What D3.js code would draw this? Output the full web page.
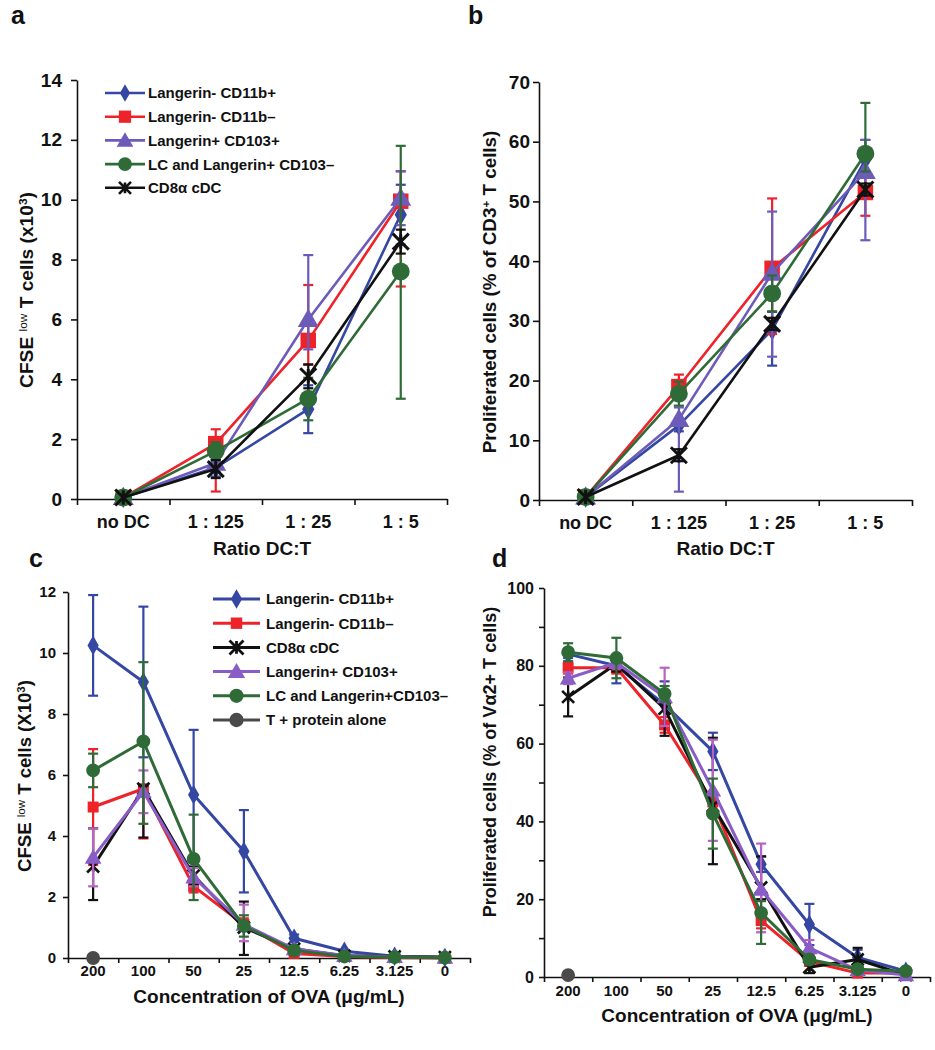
<!DOCTYPE html>
<html><head><meta charset="utf-8">
<script src="https://cdn.jsdelivr.net/npm/d3@7/dist/d3.min.js"></script>
<style>body{margin:0;background:#fff}svg{display:block}</style>
</head><body>
<svg id="chart" width="935" height="1050"></svg>
<script>
// ---------- DATA ----------
const ratioCats = ["no DC", "1 : 125", "1 : 25", "1 : 5"];
const ovaCats = ["200", "100", "50", "25", "12.5", "6.25", "3.125", "0"];

const seriesNamesAB = ["Langerin- CD11b+", "Langerin- CD11b\u2013", "Langerin+ CD103+", "LC and Langerin+ CD103\u2013", "CD8\u03b1 cDC"];
const seriesNamesCD = ["Langerin- CD11b+", "Langerin- CD11b\u2013", "CD8\u03b1 cDC", "Langerin+ CD103+", "LC and Langerin+CD103\u2013", "T + protein alone"];

// Panel a: CFSE low T cells (x10^3)
const aBlue = [0.05, 1.05, 3.0, 9.5];
const aBlueUp = [0, 0.3, 0.8, 1.0];
const aBlueDn = [0, 0.3, 0.8, 1.0];
const aRed = [0.05, 1.85, 5.3, 9.95];
const aRedUp = [0, 0.48, 1.85, 1.0];
const aRedDn = [0, 1.6, 0.82, 2.85];
const aPurple = [0.05, 1.2, 6.0, 10.05];
const aPurpleUp = [0, 0.3, 2.15, 0.9];
const aPurpleDn = [0, 0.3, 1.0, 0.9];
const aGreen = [0.05, 1.6, 3.35, 7.6];
const aGreenUp = [0, 0.3, 0.7, 4.2];
const aGreenDn = [0, 0.3, 0.72, 4.25];
const aBlack = [0.05, 1.0, 4.1, 8.6];
const aBlackUp = [0, 0.3, 0.4, 0.4];
const aBlackDn = [0, 0.3, 0.4, 0.4];

// Panel b: Proliferated cells (% of CD3+ T cells)
const bBlue = [0.5, 12.5, 28.5, 57];
const bBlueUp = [0, 1, 3, 3.3];
const bBlueDn = [0, 1, 6, 3];
const bRed = [0.5, 19, 38.8, 51.5];
const bRedUp = [0, 2, 11.7, 3];
const bRedDn = [0, 2, 11, 3.9];
const bPurple = [0.5, 13.5, 38, 55];
const bPurpleUp = [0, 2, 10.3, 5.3];
const bPurpleDn = [0, 12.1, 14, 11.5];
const bGreen = [0.5, 17.8, 34.6, 58];
const bGreenUp = [0, 2, 3, 8.5];
const bGreenDn = [0, 2, 3, 3];
const bBlack = [0.5, 7.5, 29.5, 52];
const bBlackUp = [0, 1, 1, 1];
const bBlackDn = [0, 1, 1, 1];

// Panel c: CFSE low T cells (X10^3)
const cBlue = [10.25, 9.05, 5.35, 3.5, 0.65, 0.22, 0.06, 0.02];
const cBlueUp = [1.65, 2.47, 2.13, 1.35, 0.12, 0.05, 0, 0];
const cBlueDn = [1.65, 2.47, 2.13, 1.35, 0.12, 0.05, 0, 0];
const cRed = [4.95, 5.55, 2.35, 1.1, 0.15, 0.05, 0.02, 0];
const cRedUp = [1.9, 0.1, 0.2, 0.2, 0.05, 0.02, 0, 0];
const cRedDn = [1.9, 1.63, 0.2, 0.2, 0.05, 0.02, 0, 0];
const cBlack = [3.0, 5.55, 2.7, 1.0, 0.3, 0.07, 0.05, 0.03];
const cBlackUp = [1.25, 0.1, 0.3, 0.85, 0.1, 0, 0, 0];
const cBlackDn = [1.1, 1.6, 0.3, 0.9, 0.1, 0, 0, 0];
const cPurple = [3.3, 5.45, 2.65, 1.1, 0.3, 0.08, 0.04, 0.02];
const cPurpleUp = [0.95, 0.7, 0.3, 0.65, 0.05, 0, 0, 0];
const cPurpleDn = [0.95, 0.7, 0.3, 0.55, 0.05, 0, 0, 0];
const cGreen = [6.15, 7.1, 3.25, 1.05, 0.25, 0.05, 0.03, 0.01];
const cGreenUp = [0.55, 2.6, 1.45, 0.35, 0.05, 0, 0, 0];
const cGreenDn = [0.55, 2.7, 1.35, 0.35, 0.05, 0, 0, 0];
const cGray = [0, null, null, null, null, null, null, null];

// Panel d: Proliferated cells (% of Va2+ T cells)
const dBlue = [83, 80, 70, 58, 29, 13.5, 5, 1.5];
const dBlueUp = [1, 1, 6, 4.8, 2, 5.3, 2, 0];
const dBlueDn = [1, 4.5, 6, 4.8, 2, 5.3, 2, 0];
const dRed = [79.5, 79.5, 64.8, 45, 14.5, 4, 1, 1];
const dRedUp = [1.5, 1.5, 2, 2, 2, 1, 0.5, 0];
const dRedDn = [1.5, 1.5, 2, 2, 2, 1, 0.5, 0];
const dBlack = [72, 80.5, 69, 44, 23, 2.5, 4.5, 0.5];
const dBlackUp = [5, 2, 2, 17.5, 8, 1.5, 3, 0.5];
const dBlackDn = [5, 2, 7, 15, 3, 1.5, 3, 0.5];
const dPurple = [76.8, 80.8, 72, 48, 22.5, 7.5, 1.8, 0.5];
const dPurpleUp = [1.5, 1.5, 7.5, 13, 11.8, 2, 1, 0];
const dPurpleDn = [1.5, 1.5, 7.5, 13, 11, 2, 1, 0];
const dGreen = [83.5, 82, 72.8, 42, 16.5, 4.5, 2, 1.5];
const dGreenUp = [2.3, 5.2, 2, 9, 3, 1, 0.5, 0];
const dGreenDn = [2.3, 5.2, 2, 9, 8, 1, 0.5, 0];
const dGray = [0.5, null, null, null, null, null, null, null];

const ticksA = [0, 2, 4, 6, 8, 10, 12, 14];
const ticksB = [0, 10, 20, 30, 40, 50, 60, 70];
const ticksC = [0, 2, 4, 6, 8, 10, 12];
const ticksD = [0, 20, 40, 60, 80, 100];
const minorD = [10, 30, 50, 70, 90];

// ---------- STYLE ----------
const COL = {blue: "#3447a3", red: "#ee2229", purple: "#6d5bb9", purple2: "#8a5cc6", magenta: "#b860c4", green: "#2f6b36", black: "#111111", gray: "#4a4a4a"};
const FONT = "'Liberation Sans', Arial, sans-serif";
const svg = d3.select("#chart");

function starPath(r) {
  return `M${-r},${-r}L${r},${r}M${-r},${r}L${r},${-r}M0,${-r*0.9}L0,${r*0.9}`;
}
function drawMarker(g, shape, x, y, color, s) {
  if (shape === "star") {
    g.append("path").attr("d", starPath(s.star)).attr("transform", `translate(${x},${y})`)
      .attr("stroke", color).attr("stroke-width", s.starW).attr("fill", "none");
    return;
  }
  const t = {diamond: d3.symbolDiamond, square: d3.symbolSquare, triangle: d3.symbolTriangle, circle: d3.symbolCircle}[shape];
  g.append("path").attr("d", d3.symbol().type(t).size(s[shape])()).attr("transform", `translate(${x},${y + (shape === "triangle" ? 1.5 : 0)})`)
    .attr("fill", color);
}

function panel(o) {
  const g = svg.append("g");
  const n = o.cats.length;
  const y = d3.scaleLinear().domain(o.yDomain).range([o.bottom, o.top]);
  const band = d3.scaleBand().domain(o.cats).range([o.left, o.right]).padding(0);
  const lin = d3.scaleLinear().domain([0, n]).range([o.left, o.right]);
  const cx = c => band(c) + band.bandwidth() / 2;

  const ya = g.append("g").attr("transform", `translate(${o.left},0)`)
    .call(d3.axisLeft(y).tickValues(o.yTicks).tickSize(o.yTickLen).tickSizeOuter(0).tickPadding(o.yPad));
  if (o.yMinor) {
    g.append("g").attr("transform", `translate(${o.left},0)`)
      .call(d3.axisLeft(y).tickValues(o.yMinor).tickSize(o.yTickLen).tickFormat(""))
      .call(a => a.select(".domain").remove());
  }
  g.append("g").attr("transform", `translate(0,${o.bottom})`)
    .call(d3.axisBottom(lin).tickValues(d3.range(n + 1)).tickFormat("").tickSize(o.xTickLen).tickSizeOuter(0));
  g.append("g").attr("class", "xl").attr("transform", `translate(0,${o.bottom})`)
    .call(d3.axisBottom(band).tickSize(0).tickPadding(o.xPad))
    .call(a => a.select(".domain").remove());
  g.selectAll(".domain, .tick line").attr("stroke", "#111").attr("stroke-width", 1.6);
  g.selectAll(".tick text").attr("font-family", FONT).attr("font-weight", "bold").attr("fill", "#111");
  ya.selectAll(".tick text").attr("font-size", o.yFont);
  g.selectAll(".xl .tick text").attr("font-size", o.xFont);

  o.series.forEach(s => {
    const sg = g.append("g");
    const pts = o.cats.map((c, i) => ({x: cx(c), v: s.values[i], i})).filter(p => p.v !== null);
    if (s.up) {
      pts.forEach(p => {
        const u = s.up[p.i], dn = s.dn[p.i];
        const yt = y(p.v + u), yb = y(p.v - dn);
        if (u > 0 || dn > 0) {
          sg.append("line").attr("x1", p.x).attr("x2", p.x).attr("y1", yt).attr("y2", yb)
            .attr("stroke", s.errColor || s.color).attr("stroke-width", o.errW);
          if (u > 0) sg.append("line").attr("x1", p.x - o.cap).attr("x2", p.x + o.cap).attr("y1", yt).attr("y2", yt)
            .attr("stroke", s.errColor || s.color).attr("stroke-width", o.errW);
          if (dn > 0) sg.append("line").attr("x1", p.x - o.cap).attr("x2", p.x + o.cap).attr("y1", yb).attr("y2", yb)
            .attr("stroke", s.errColor || s.color).attr("stroke-width", o.errW);
        }
      });
    }
    if (pts.length > 1) {
      sg.append("path").datum(pts)
        .attr("d", d3.line().x(p => p.x).y(p => y(p.v)))
        .attr("fill", "none").attr("stroke", s.color).attr("stroke-width", o.lineW).attr("stroke-linejoin", "round");
    }
    pts.forEach(p => drawMarker(sg, s.shape, p.x, y(p.v), s.color, o.mk));
  });

  if (o.legend) {
    const L = o.legend;
    o.series.forEach((s, i) => {
      const ly = L.y + i * L.dy;
      g.append("line").attr("x1", L.x1).attr("x2", L.x2).attr("y1", ly).attr("y2", ly)
        .attr("stroke", s.color).attr("stroke-width", o.lineW);
      drawMarker(g, s.shape, (L.x1 + L.x2) / 2, ly, s.color, L.mk || o.mk);
      g.append("text").attr("x", L.tx).attr("y", ly + L.font * 0.36).text(s.name)
        .attr("font-family", FONT).attr("font-weight", "bold").attr("font-size", L.font).attr("fill", "#111");
    });
  }

  g.append("text").attr("x", (o.left + o.right) / 2).attr("y", o.xTitleY).attr("text-anchor", "middle")
    .attr("font-family", FONT).attr("font-weight", "bold").attr("font-size", o.xTitleFont).attr("fill", "#111")
    .text(o.xTitle);

  // y title, horizontally compressed to the measured reference length
  const yt = g.append("text")
    .attr("text-anchor", "middle").attr("font-family", FONT).attr("font-weight", "bold")
    .attr("font-size", o.yTitleFont).attr("fill", "#111");
  o.yTitle.forEach(part => {
    const t = yt.append("tspan").text(part.t);
    if (part.sup) t.attr("baseline-shift", "super").attr("font-size", o.yTitleFont * 0.62);
    if (part.light) t.attr("font-weight", "normal");
  });
  const w = yt.node().getBBox().width;
  const k = w > 0 ? o.yTitleLen / w : 1;
  yt.attr("transform", `translate(${o.yTitleX},${o.yTitleCY}) rotate(-90) scale(${k},1)`);

  svg.append("text").attr("x", o.letterX).attr("y", o.letterY).text(o.letter)
    .attr("font-family", FONT).attr("font-weight", "bold").attr("font-size", 25).attr("fill", "#111");
}

const mkBig = {diamond: 130, square: 240, triangle: 190, circle: 250, star: 8, starW: 3};
const mkSmall = {diamond: 110, square: 120, triangle: 120, circle: 150, star: 6, starW: 2.6};

panel({
  letter: "a", letterX: 11, letterY: 24,
  left: 77, right: 447, top: 80, bottom: 499, yDomain: [0, 14], yTicks: ticksA,
  yTickLen: 6, yPad: 9, yFont: 19, xTickLen: 6, xPad: 16, xFont: 18,
  cats: ratioCats, lineW: 2.6, errW: 2.2, cap: 5, mk: mkBig,
  series: [
    {name: seriesNamesAB[0], values: aBlue, up: aBlueUp, dn: aBlueDn, color: COL.blue, shape: "diamond"},
    {name: seriesNamesAB[1], values: aRed, up: aRedUp, dn: aRedDn, color: COL.red, shape: "square"},
    {name: seriesNamesAB[2], values: aPurple, up: aPurpleUp, dn: aPurpleDn, color: COL.purple, shape: "triangle"},
    {name: seriesNamesAB[3], values: aGreen, up: aGreenUp, dn: aGreenDn, color: COL.green, shape: "circle"},
    {name: seriesNamesAB[4], values: aBlack, up: aBlackUp, dn: aBlackDn, color: COL.black, shape: "star"}
  ],
  legend: {x1: 105, x2: 145, tx: 148, y: 93, dy: 23.7, font: 15, mk: {diamond: 90, square: 150, triangle: 120, circle: 150, star: 6, starW: 2.6}},
  xTitle: "Ratio DC:T", xTitleY: 555, xTitleFont: 19,
  yTitleX: 33, yTitleCY: 290, yTitleFont: 18, yTitleLen: 196,
  yTitle: [{t: "CFSE "}, {t: "low", sup: true, light: true}, {t: " T cells (x10"}, {t: "3", sup: true}, {t: ")"}]
});

panel({
  letter: "b", letterX: 468, letterY: 24,
  left: 539, right: 912, top: 82, bottom: 500, yDomain: [0, 70], yTicks: ticksB,
  yTickLen: 6, yPad: 3, yFont: 19, xTickLen: 6, xPad: 16, xFont: 18,
  cats: ratioCats, lineW: 2.6, errW: 2.2, cap: 5, mk: mkBig,
  series: [
    {name: seriesNamesAB[0], values: bBlue, up: bBlueUp, dn: bBlueDn, color: COL.blue, shape: "diamond"},
    {name: seriesNamesAB[1], values: bRed, up: bRedUp, dn: bRedDn, color: COL.red, shape: "square"},
    {name: seriesNamesAB[2], values: bPurple, up: bPurpleUp, dn: bPurpleDn, color: COL.purple, shape: "triangle"},
    {name: seriesNamesAB[3], values: bGreen, up: bGreenUp, dn: bGreenDn, color: COL.green, shape: "circle"},
    {name: seriesNamesAB[4], values: bBlack, up: bBlackUp, dn: bBlackDn, color: COL.black, shape: "star"}
  ],
  xTitle: "Ratio DC:T", xTitleY: 555, xTitleFont: 19,
  yTitleX: 496, yTitleCY: 292, yTitleFont: 18, yTitleLen: 323,
  yTitle: [{t: "Proliferated cells (% of CD3"}, {t: "+", sup: true}, {t: " T cells)"}]
});

panel({
  letter: "c", letterX: 29, letterY: 567,
  left: 68, right: 470, top: 592, bottom: 958, yDomain: [0, 12], yTicks: ticksC,
  yTickLen: 5, yPad: 7, yFont: 15, xTickLen: 5, xPad: 7, xFont: 15,
  cats: ovaCats, lineW: 3, errW: 2.2, cap: 5, mk: mkSmall,
  series: [
    {name: seriesNamesCD[0], values: cBlue, up: cBlueUp, dn: cBlueDn, color: COL.blue, shape: "diamond"},
    {name: seriesNamesCD[1], values: cRed, up: cRedUp, dn: cRedDn, color: COL.red, shape: "square"},
    {name: seriesNamesCD[2], values: cBlack, up: cBlackUp, dn: cBlackDn, color: COL.black, shape: "star"},
    {name: seriesNamesCD[3], values: cPurple, up: cPurpleUp, dn: cPurpleDn, color: COL.purple2, errColor: COL.magenta, shape: "triangle"},
    {name: seriesNamesCD[4], values: cGreen, up: cGreenUp, dn: cGreenDn, color: COL.green, shape: "circle"},
    {name: seriesNamesCD[5], values: cGray, color: COL.gray, shape: "circle"}
  ],
  legend: {x1: 213, x2: 260, tx: 266, y: 599, dy: 24.2, font: 15, mk: {diamond: 110, square: 130, triangle: 130, circle: 160, star: 7, starW: 2.8}},
  xTitle: "Concentration of OVA (\u03bcg/mL)", xTitleY: 1003, xTitleFont: 19,
  yTitleX: 31, yTitleCY: 776, yTitleFont: 18, yTitleLen: 192,
  yTitle: [{t: "CFSE "}, {t: "low", sup: true, light: true}, {t: " T cells (X10"}, {t: "3", sup: true}, {t: ")"}]
});

panel({
  letter: "d", letterX: 492, letterY: 567,
  left: 544, right: 930, top: 588, bottom: 977, yDomain: [0, 100], yTicks: ticksD, yMinor: minorD,
  yTickLen: 5, yPad: 5, yFont: 16, xTickLen: 5, xPad: 8, xFont: 15,
  cats: ovaCats, lineW: 3, errW: 2.2, cap: 5, mk: mkSmall,
  series: [
    {name: seriesNamesCD[0], values: dBlue, up: dBlueUp, dn: dBlueDn, color: COL.blue, shape: "diamond"},
    {name: seriesNamesCD[1], values: dRed, up: dRedUp, dn: dRedDn, color: COL.red, shape: "square"},
    {name: seriesNamesCD[2], values: dBlack, up: dBlackUp, dn: dBlackDn, color: COL.black, shape: "star"},
    {name: seriesNamesCD[3], values: dPurple, up: dPurpleUp, dn: dPurpleDn, color: COL.purple2, errColor: COL.magenta, shape: "triangle"},
    {name: seriesNamesCD[4], values: dGreen, up: dGreenUp, dn: dGreenDn, color: COL.green, shape: "circle"},
    {name: seriesNamesCD[5], values: dGray, color: COL.gray, shape: "circle"}
  ],
  xTitle: "Concentration of OVA (\u03bcg/mL)", xTitleY: 1022, xTitleFont: 19,
  yTitleX: 496, yTitleCY: 762, yTitleFont: 18, yTitleLen: 311,
  yTitle: [{t: "Proliferated cells (% of V\u03b12+ T cells)"}]
});
</script>
</body></html>
